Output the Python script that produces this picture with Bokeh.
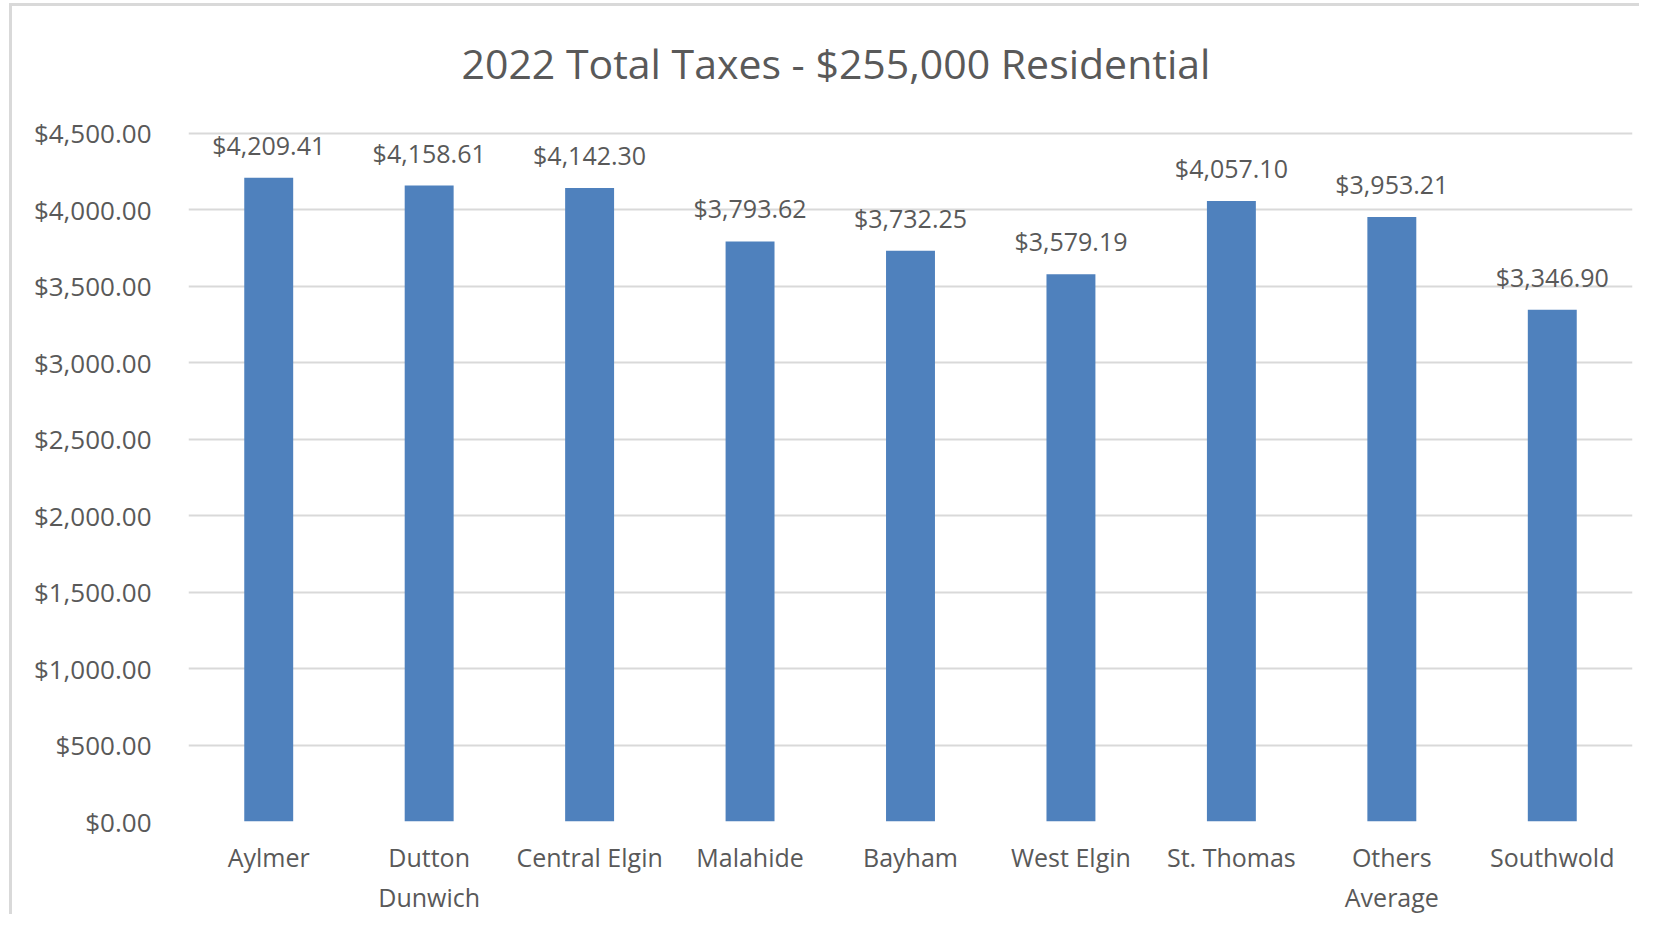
from bokeh.plotting import figure
from bokeh.models import ColumnDataSource, Range1d, FactorRange, NumeralTickFormatter, FixedTicker
from bokeh.embed import file_html
from bokeh.resources import INLINE
from bokeh.core.properties import value

title_text = "2022 Total Taxes - $255,000 Residential"
categories = ["Aylmer", "Dutton\nDunwich", "Central Elgin", "Malahide", "Bayham",
              "West Elgin", "St. Thomas", "Others\nAverage", "Southwold"]
taxes = [4209.41, 4158.61, 4142.30, 3793.62, 3732.25, 3579.19, 4057.10, 3953.21, 3346.90]
y_ticks = [0, 500, 1000, 1500, 2000, 2500, 3000, 3500, 4000, 4500]

labels = ["${:,.2f}".format(v) for v in taxes]
src = ColumnDataSource(dict(cat=categories, val=taxes, lab=labels))

FONT = "Open Sans"
TXT = "#595959"

# frame extends a little above the top gridline so the title can sit at the right height
p = figure(x_range=FactorRange(factors=categories, range_padding=0),
           y_range=Range1d(0, 4715),
           width=1630, height=911, output_backend="svg", toolbar_location=None,
           min_border_left=176, min_border_right=10, min_border_top=94, min_border_bottom=94,
           background_fill_color="white", border_fill_color="white",
           styles={"border-left": "3px solid #d9d9d9", "border-top": "3px solid #d9d9d9",
                   "margin-left": "9px", "margin-top": "3px"})
p.outline_line_color = None

p.title.text = title_text
p.title.align = "left"
p.title.offset = 273
p.title.standoff = 19
p.title.text_font = FONT
p.title.text_font_size = "41px"
p.title.text_font_style = "normal"
p.title.text_color = TXT

p.vbar(x="cat", top="val", width=0.305, source=src, fill_color="#4F81BD", line_color=None)

p.text(x="cat", y="val", text="lab", source=src, text_align="center", text_baseline="middle",
       y_offset=-33, text_font=value(FONT), text_font_size="25px", text_color=TXT)

p.yaxis.ticker = FixedTicker(ticks=y_ticks)
p.yaxis.formatter = NumeralTickFormatter(format="$0,0.00")
for ax in (p.xaxis[0], p.yaxis[0]):
    ax.axis_line_color = None
    ax.major_tick_line_color = None
    ax.minor_tick_line_color = None
    ax.major_label_text_font = FONT
    ax.major_label_text_color = TXT
p.yaxis.major_label_text_font_size = "26px"
p.xaxis.major_label_text_font_size = "25px"
p.yaxis.major_label_standoff = 31
p.xaxis.major_label_standoff = 12

p.xgrid.grid_line_color = None
p.ygrid.grid_line_color = "#D9D9D9"
p.ygrid.grid_line_width = 2

open("out.html", "w").write(file_html(p, INLINE))
